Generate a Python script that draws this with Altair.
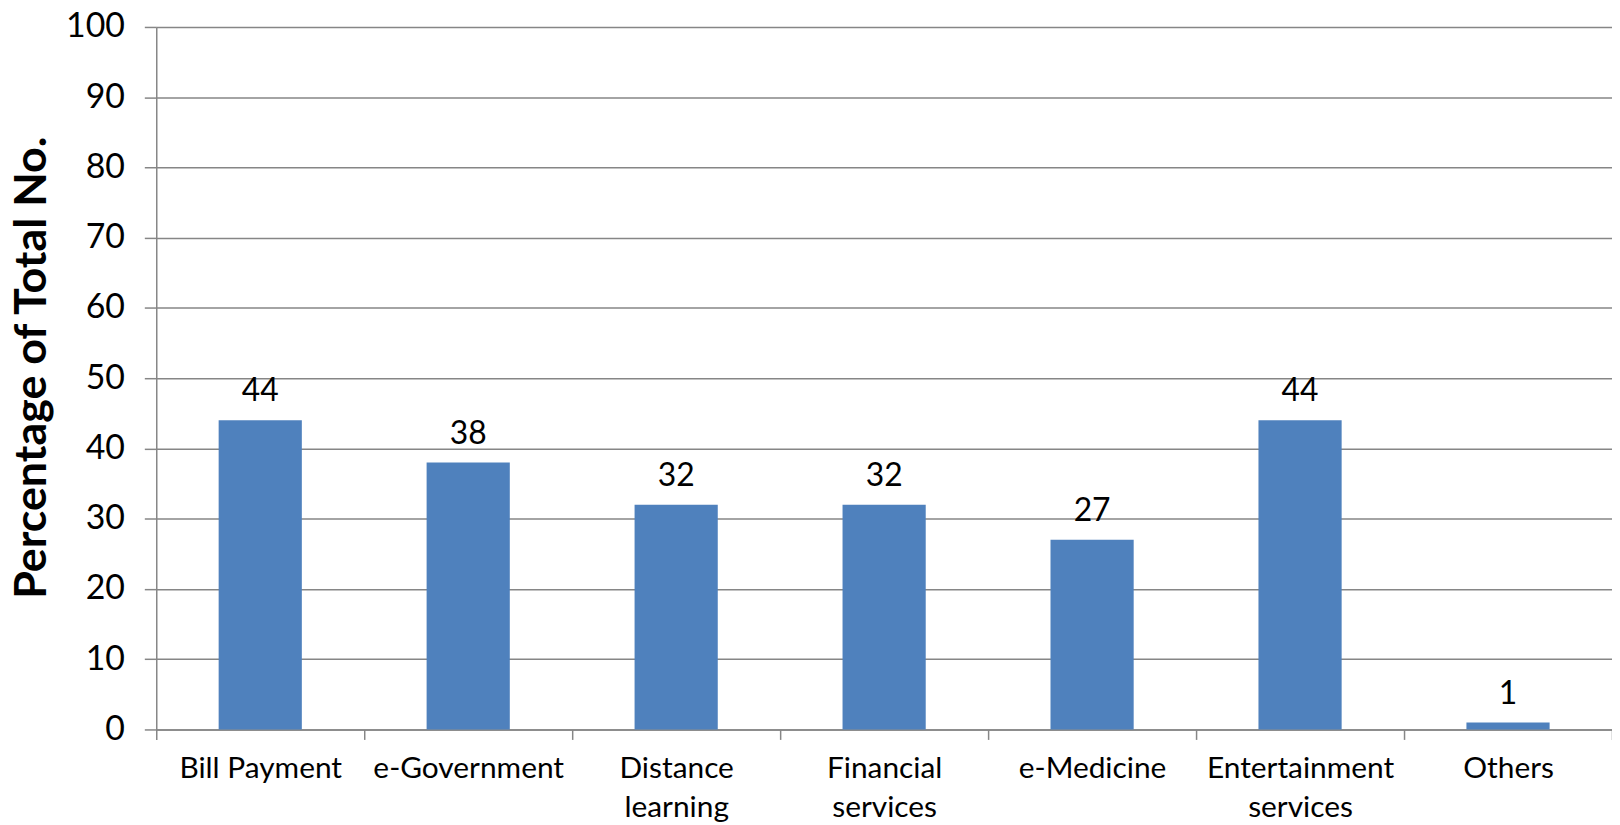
import altair as alt
import pandas as pd

categories = ["Bill Payment", "e-Government", "Distance learning", "Financial services",
              "e-Medicine", "Entertainment services", "Others"]
values = [44, 38, 32, 32, 27, 44, 1]
y_ticks = [0, 10, 20, 30, 40, 50, 60, 70, 80, 90, 100]

df = pd.DataFrame({"category": categories, "value": values})

FONT = "Lato"
GRAY = "#868686"

label_expr = ("indexof(['Distance learning','Financial services','Entertainment services'], datum.label) >= 0"
              " ? split(datum.label, ' ') : datum.label")

x_enc = alt.X(
    "category:N", sort=categories, title=None,
    scale=alt.Scale(paddingInner=0, paddingOuter=0),
    axis=alt.Axis(labelAngle=0, labelFont=FONT, labelFontSize=30, labelColor="black",
                  labelExpr=label_expr, labelLineHeight=39, labelPadding=14, labelLimit=400,
                  labelBaseline="top", tickBand="extent", tickSize=10, tickColor=GRAY,
                  tickWidth=1.5, domainColor=GRAY, domainWidth=1.5, grid=False),
)
y_enc = alt.Y(
    "value:Q", title="Percentage of Total No.",
    scale=alt.Scale(domain=[0, 100], nice=False),
    axis=alt.Axis(values=y_ticks, labelFont=FONT, labelFontSize=34, labelColor="black",
                  labelPadding=20, tickSize=12, tickColor=GRAY, tickWidth=1.5,
                  domainColor=GRAY, domainWidth=1.5, gridColor=GRAY, gridWidth=1.5,
                  titleFont=FONT, titleFontSize=45, titleFontWeight="bold", titleColor="black",
                  titleX=-102, titleY=342, titleAlign="center", titleBaseline="bottom",
                  titleAngle=270),
)

bars = alt.Chart(df).mark_bar(color="#4F81BD", width=alt.RelativeBandSize(0.4)).encode(
    x=x_enc, y=y_enc)
text = alt.Chart(df).mark_text(font=FONT, fontSize=32, dy=-19, baseline="alphabetic",
                               color="black").encode(
    x=alt.X("category:N", sort=categories), y=alt.Y("value:Q"), text="value:Q")

chart = (bars + text).properties(
    width=1463, height=706,
    autosize=alt.AutoSizeParams(type="none"),
    padding={"left": 149, "top": 17, "right": 0, "bottom": 100},
).configure_view(stroke=None)

chart.save("out.html", embed_options={"renderer": "svg", "actions": False})
